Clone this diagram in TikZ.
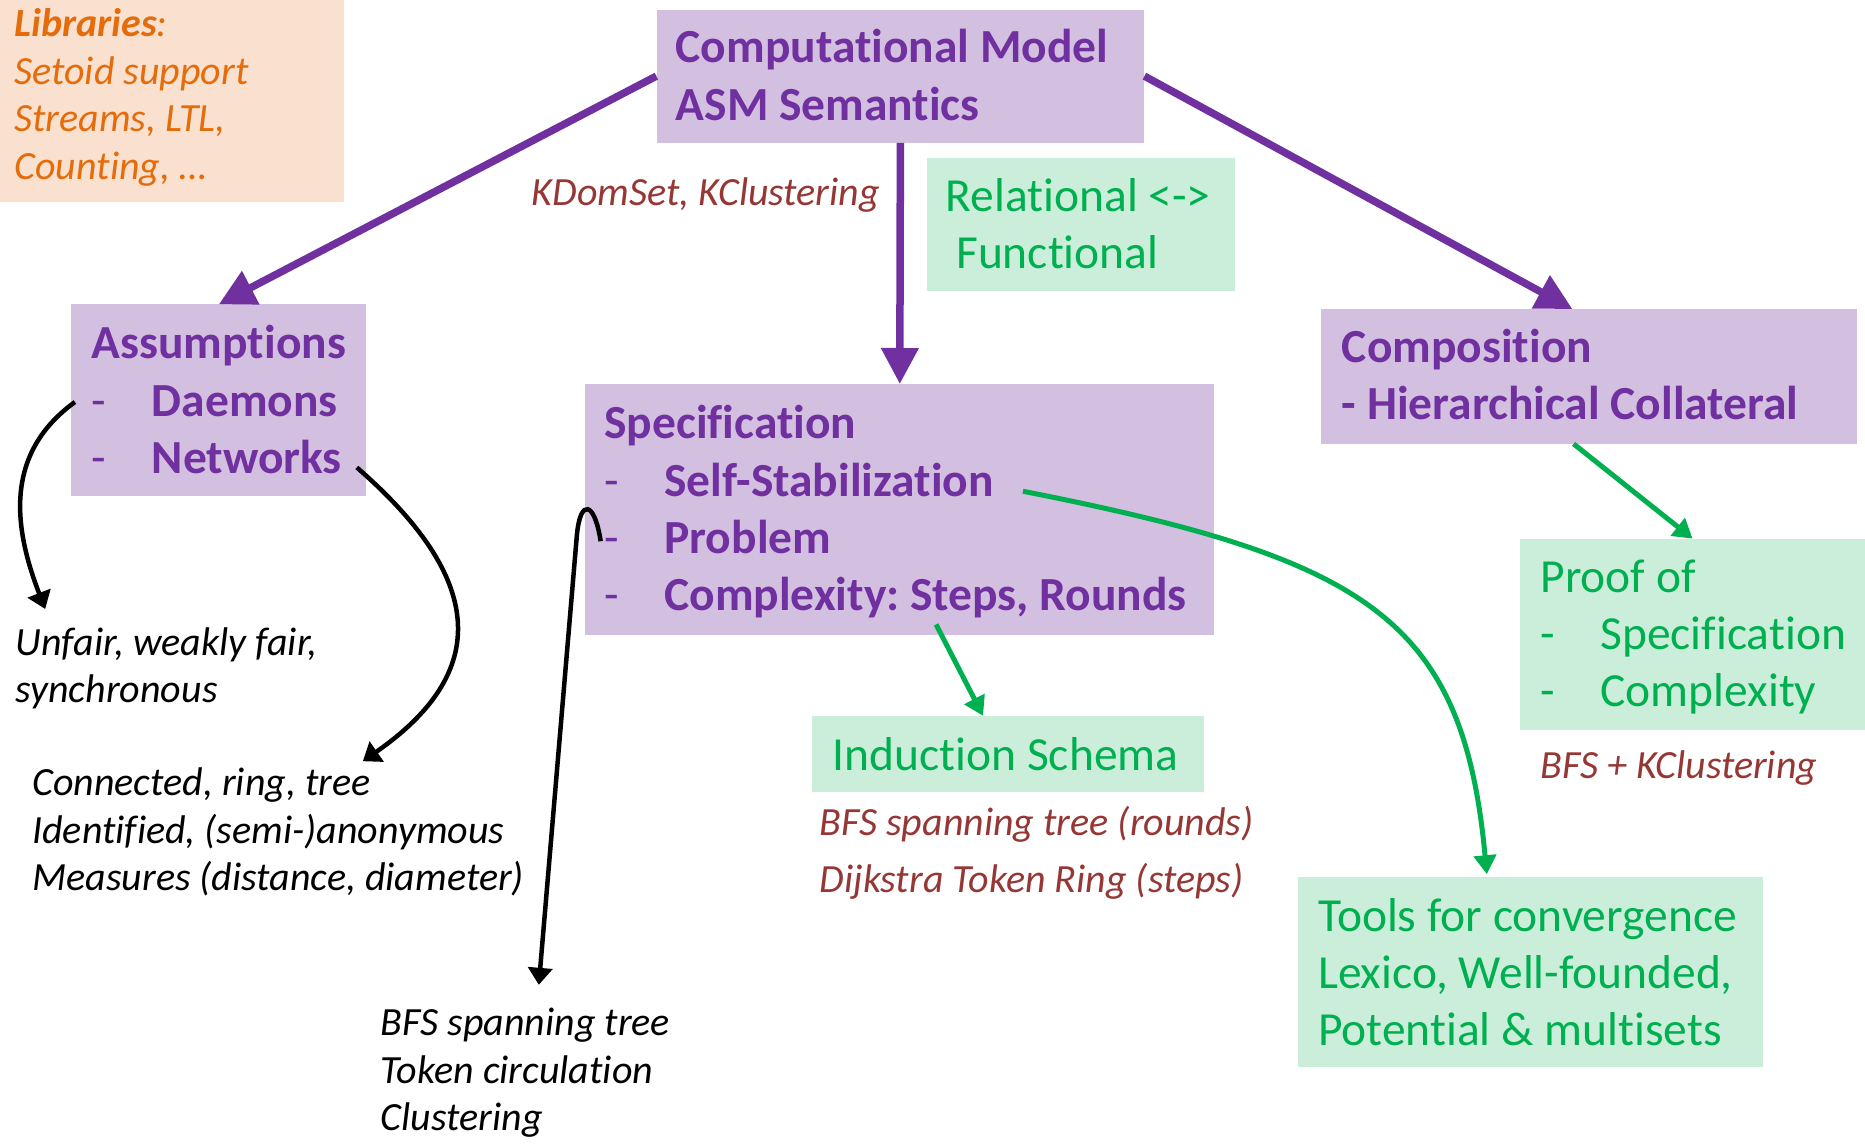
\documentclass[tikz,border=0pt]{standalone}
\usepackage{fontspec}
\setmainfont{Carlito}[Ligatures=NoCommon]
\usetikzlibrary{arrows.meta,fit,calc}
\frenchspacing

\definecolor{purpFill}{HTML}{D3BFE0}
\definecolor{purpText}{HTML}{7030A0}
\definecolor{grnFill}{HTML}{CBEEDA}
\definecolor{grnText}{HTML}{00B050}
\definecolor{orgFill}{HTML}{FAE0CF}
\definecolor{orgText}{HTML}{E46C0A}
\definecolor{citeRed}{HTML}{953735}

% dash followed by a tab stop, as in the bulleted box lines
\newcommand\itm{\makebox[60pt][l]{\mdseries -}}

\begin{document}
\begin{tikzpicture}[
  x=1.1894pt, y=-1.1894pt,
  pbox/.style={fill=purpFill, inner sep=0pt},
  gbox/.style={fill=grnFill, inner sep=0pt},
  obox/.style={fill=orgFill, inner sep=0pt},
  % text nodes are placed by the baseline of their last line
  bigp/.style={font=\fontsize{47.5}{57.4}\selectfont\bfseries, text=purpText, align=left, inner sep=0pt, anchor=base west},
  bigg/.style={font=\fontsize{47.5}{57.4}\selectfont, text=grnText, align=left, inner sep=0pt, anchor=base west},
  note/.style={font=\fontsize{40}{47.6}\selectfont\itshape, align=left, inner sep=0pt, anchor=base west},
  cite/.style={font=\fontsize{40}{57}\selectfont\itshape, text=citeRed, align=left, inner sep=0pt, anchor=base west},
  parrow/.style={draw=purpText, line width=7.5pt, -{Triangle[length=36pt,width=36pt]}},
  garrow/.style={draw=grnText, line width=5pt, -{Triangle[length=19pt,width=22pt]}},
  karrow/.style={draw=black, line width=4.5pt, -{Triangle[length=17pt,width=24pt]}},
]
\useasboundingbox (0,0) rectangle (1568,964);

% ---- boxes ----
\node[obox, fit={(0,0) (289,170)}] (lib) {};
\node[pbox, fit={(552,8) (962,120)}] (cm) {};
\node[gbox, fit={(779,133) (1038,245)}] (rel) {};
\node[pbox, fit={(60,256) (308,417)}] (asm) {};
\node[pbox, fit={(492,323) (1021,534)}] (spec) {};
\node[pbox, fit={(1111,260) (1561,373)}] (comp) {};
\node[gbox, fit={(1278,453) (1568,614)}] (proof) {};
\node[gbox, fit={(683,602) (1012,666)}] (ind) {};
\node[gbox, fit={(1091,737) (1482,897)}] (tools) {};

% ---- box texts ----
\node[note, text=orgText] (libT) at (12,150.9)
  {\textbf{Libraries}:\\Setoid support\\Streams, LTL,\\Counting, \dots};
\node[bigp] (cmT) at (568,101) {Computational Model\\ASM Semantics};
\node[bigg] (relT) at (795,226) {Relational <->\\\hspace*{0.22em}Functional};
\node[bigp] (asmT) at (77,398.3) {Assumptions\\\itm Daemons\\\itm Networks};
\node[bigp] (specT) at (508,513.6)
  {Specification\\\itm Self-Stabilization\\\itm Problem\\\itm Complexity: Steps, Rounds};
\node[bigp] (compT) at (1128,353) {Composition\\- Hierarchical Collateral};
\node[bigg] (proofT) at (1295,594.3) {Proof of\\\itm Specification\\\itm Complexity};
\node[bigg] (indT) at (700,647.8) {Induction Schema};
\node[bigg] (toolsT) at (1108,879.3)
  {Tools for convergence\\Lexico, Well-founded,\\Potential \& multisets};

% ---- free annotations ----
\node[cite] (kdom) at (447,172.8) {KDomSet, KClustering};
\node[cite] (indEx) at (689,750.7) {BFS spanning tree (rounds)\\Dijkstra Token Ring (steps)};
\node[cite] (proofEx) at (1295,654.8) {BFS + KClustering};
\node[note] (daem) at (13,590.8) {Unfair, weakly fair,\\synchronous};
\node[note] (netw) at (27,748.8)
  {Connected, ring, tree\\Identified, (semi-)anonymous\\Measures (distance, diameter)};
\node[note] (probs) at (320,950.8) {BFS spanning tree\\Token circulation\\Clustering};

% ---- connector end points ----
\coordinate (daemS) at (63,338);
\coordinate (daemE) at (38,512);
\coordinate (netwS) at (300,393);
\coordinate (netwE) at (305,640);
\coordinate (probS) at (505,455);
\coordinate (probM) at (485,450);
\coordinate (probE) at (453,828);
\coordinate (stabS) at (860,413);
\coordinate (toolsE) at (1250,735);
\coordinate (cplxS) at (787,525);

% ---- purple structure arrows ----
\draw[parrow] (cm.west) -- (asm.north);
\draw[parrow] (cm.south) -- (spec.north);
\draw[parrow] (cm.east) -- ($(comp.north)+(-14,0)$);

% ---- green arrows ----
\draw[garrow] ($(comp.south)+(-13,0)$) -- (proof.north);
\draw[garrow] (cplxS) -- ($(ind.north)+(-21,0)$);
\draw[garrow] (stabS) .. controls (1150,470) and (1230,520) .. (toolsE);

% ---- black arrows ----
\draw[karrow] (daemS) .. controls (5,380) and (10,440) .. (daemE);
\draw[karrow] (netwS) .. controls (400,480) and (420,560) .. (netwE);
\draw[karrow] (probS) .. controls (500,422) and (488,418) .. (probM) -- (probE);
\end{tikzpicture}
\end{document}
